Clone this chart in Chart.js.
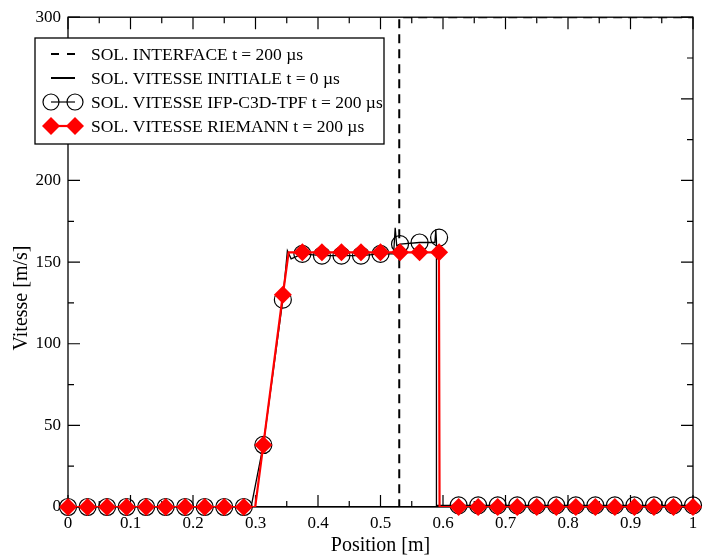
<!DOCTYPE html>
<html><head><meta charset="utf-8">
<script src="https://cdn.jsdelivr.net/npm/chart.js@4/dist/chart.umd.min.js"></script>
<style>html,body{margin:0;padding:0;background:#fff;}#wrap{width:707px;height:557px;}</style>
</head><body><div id="wrap"><canvas id="c" width="707" height="557"></canvas></div>
<script>
// ---- data ----
const markerX = [0, 0.03125, 0.0625, 0.09375, 0.125, 0.15625, 0.1875, 0.21875, 0.25, 0.28125,
  0.3125, 0.34375, 0.375, 0.40625, 0.4375, 0.46875, 0.5, 0.53125, 0.5625, 0.59375,
  0.625, 0.65625, 0.6875, 0.71875, 0.75, 0.78125, 0.8125, 0.84375, 0.875, 0.90625, 0.9375, 0.96875, 1];
const riemannMarkerY = [0,0,0,0,0,0,0,0,0,0, 38,130,156,156,156,156,156,156,156,156, 0,0,0,0,0,0,0,0,0,0,0,0,0];
const ifpMarkerY = [0,0,0,0,0,0,0,0,0,0, 38,127,155,154,154,154,155,161,162,165, 1,1,1,1,1,1,1,1,1,1,1,1,1];
const riemannLineX = [0, 0.2995, 0.3125, 0.34375, 0.353, 0.5935, 0.5945, 1];
const riemannLineY = [0, 0, 38, 130, 156, 156, 0, 0];
const ifpLineX = [0, 0.293, 0.3125, 0.34375, 0.351, 0.357, 0.375, 0.40625, 0.4375, 0.46875, 0.5, 0.521, 0.5235, 0.526, 0.53125, 0.5625, 0.587, 0.5885, 0.5895, 0.5895, 0.6, 1];
const ifpLineY = [0, 0, 38, 127, 157, 152, 155, 154, 154, 154, 155, 155, 171, 160, 161, 162, 162, 170, 163, 1, 1, 1];
const interfaceX = [0, 0.53, 0.53, 1];
const interfaceY = [0, 0, 300, 300];
const initialX = [0, 1];
const initialY = [0, 0];
const xTickValues = [0, 0.1, 0.2, 0.3, 0.4, 0.5, 0.6, 0.7, 0.8, 0.9, 1];
const xTickLabels = ['0', '0.1', '0.2', '0.3', '0.4', '0.5', '0.6', '0.7', '0.8', '0.9', '1'];
const xMinorTicks = [0.05, 0.15, 0.25, 0.35, 0.45, 0.55, 0.65, 0.75, 0.85, 0.95];
const yTickValues = [0, 50, 100, 150, 200, 250, 300];
const yTickLabels = ['0', '50', '100', '150', '200', '250', '300'];
const yMinorTicks = [25, 75, 125, 175, 225, 275];
const seriesLabels = ['SOL. INTERFACE t = 200 µs', 'SOL. VITESSE INITIALE t = 0 µs',
  'SOL. VITESSE IFP-C3D-TPF t = 200 µs', 'SOL. VITESSE RIEMANN t = 200 µs'];
const xTitle = 'Position [m]';
const yTitle = 'Vitesse [m/s]';

const pts = (xs, ys) => xs.map((x, i) => ({x: x, y: ys[i]}));
const SERIF = '"Liberation Serif", "Times New Roman", serif';

const framePlugin = {
  id: 'frame',
  beforeDatasetsDraw(chart) {
    const {ctx, chartArea: a, scales: {x, y}} = chart;
    ctx.save();
    ctx.strokeStyle = '#000';
    ctx.lineWidth = 1.3;
    ctx.strokeRect(a.left, a.top, a.right - a.left, a.bottom - a.top);
    const tick = (vals, len, horiz) => {
      vals.forEach(v => {
        ctx.beginPath();
        if (horiz) {
          const px = x.getPixelForValue(v);
          ctx.moveTo(px, a.bottom); ctx.lineTo(px, a.bottom - len);
          ctx.moveTo(px, a.top); ctx.lineTo(px, a.top + len);
        } else {
          const py = y.getPixelForValue(v);
          ctx.moveTo(a.left, py); ctx.lineTo(a.left + len, py);
          ctx.moveTo(a.right, py); ctx.lineTo(a.right - len, py);
        }
        ctx.stroke();
      });
    };
    ctx.lineWidth = 1.2;
    tick(xTickValues, 12, true);
    tick(xMinorTicks, 6, true);
    tick(yTickValues, 12, false);
    tick(yMinorTicks, 6, false);
    // y axis title
    ctx.save();
    ctx.translate(22, 298);
    ctx.rotate(-Math.PI / 2);
    ctx.fillStyle = '#000';
    ctx.font = '20px ' + SERIF;
    ctx.textAlign = 'center';
    ctx.textBaseline = 'middle';
    ctx.fillText(yTitle, 0, 0);
    ctx.restore();
    ctx.restore();
  },
  afterDraw(chart) {
    const ctx = chart.ctx;
    ctx.save();
    const L = 35, T = 38, W = 349, H = 106;
    ctx.fillStyle = '#fff';
    ctx.fillRect(L, T, W, H);
    ctx.strokeStyle = '#000';
    ctx.lineWidth = 1.3;
    ctx.strokeRect(L, T, W, H);
    const x1 = 51, x2 = 75;
    seriesLabels.forEach((lab, i) => {
      const cy = 54 + 24 * i;
      ctx.save();
      ctx.beginPath();
      if (i === 0) { ctx.setLineDash([8, 8]); ctx.lineWidth = 2; ctx.strokeStyle = '#000'; }
      else if (i === 1) { ctx.lineWidth = 2; ctx.strokeStyle = '#000'; }
      else if (i === 2) { ctx.lineWidth = 1.2; ctx.strokeStyle = '#000'; }
      else { ctx.lineWidth = 2.2; ctx.strokeStyle = '#ff0000'; }
      ctx.moveTo(x1, cy); ctx.lineTo(x2, cy); ctx.stroke();
      ctx.restore();
      if (i === 2) {
        ctx.strokeStyle = '#000'; ctx.lineWidth = 1.2;
        [x1, x2].forEach(px => { ctx.beginPath(); ctx.arc(px, cy, 8, 0, Math.PI * 2); ctx.stroke(); });
      } else if (i === 3) {
        ctx.fillStyle = '#ff0000';
        [x1, x2].forEach(px => { ctx.beginPath(); ctx.moveTo(px, cy - 9); ctx.lineTo(px + 9, cy); ctx.lineTo(px, cy + 9); ctx.lineTo(px - 9, cy); ctx.closePath(); ctx.fill(); });
      }
      ctx.fillStyle = '#000';
      ctx.font = '17.5px ' + SERIF;
      ctx.textBaseline = 'middle';
      ctx.textAlign = 'left';
      ctx.fillText(lab, 91, cy + 1);
    });
    ctx.restore();
  }
};

new Chart(document.getElementById('c'), {
  type: 'line',
  data: {
    datasets: [
      {label: seriesLabels[3] + ' markers', data: pts(markerX, riemannMarkerY), showLine: false,
        pointStyle: 'rectRot', pointRadius: 9, pointBackgroundColor: '#ff0000', pointBorderColor: '#ff0000',
        pointBorderWidth: 0, order: 0, clip: false},
      {label: seriesLabels[3], data: pts(riemannLineX, riemannLineY), borderColor: '#ff0000', borderWidth: 2.2,
        pointRadius: 0, order: 1},
      {label: seriesLabels[2] + ' markers', data: pts(markerX, ifpMarkerY), showLine: false,
        pointStyle: 'circle', pointRadius: 8.5, pointBackgroundColor: 'rgba(0,0,0,0)', pointBorderColor: '#000',
        pointBorderWidth: 1.2, order: 2, clip: false},
      {label: seriesLabels[2], data: pts(ifpLineX, ifpLineY), borderColor: '#000', borderWidth: 1.3,
        pointRadius: 0, order: 3},
      {label: seriesLabels[1], data: pts(initialX, initialY), borderColor: '#000', borderWidth: 2,
        pointRadius: 0, order: 4},
      {label: seriesLabels[0], data: pts(interfaceX, interfaceY), borderColor: '#000', borderWidth: 2,
        borderDash: [9, 6], pointRadius: 0, order: 5}
    ]
  },
  options: {
    responsive: false,
    animation: false,
    devicePixelRatio: 1,
    layout: {padding: {top: 17, right: 14, left: 0, bottom: 0}},
    plugins: {legend: {display: false}, tooltip: {enabled: false}},
    elements: {line: {tension: 0}},
    scales: {
      x: {
        type: 'linear', min: 0, max: 1, position: 'bottom',
        grid: {display: false, drawTicks: false}, border: {display: false},
        afterBuildTicks: s => { s.ticks = xTickValues.map(v => ({value: v})); },
        afterFit: s => { s.height = 50; },
        ticks: {autoSkip: false, maxRotation: 0, padding: 6, color: '#000',
          font: {family: SERIF, size: 17},
          callback: v => xTickLabels[xTickValues.indexOf(v)] ?? ''},
        title: {display: true, text: xTitle, color: '#000', font: {family: SERIF, size: 20},
          padding: {top: 0, bottom: -1}}
      },
      y: {
        type: 'linear', min: 0, max: 300, position: 'left',
        grid: {display: false, drawTicks: false}, border: {display: false},
        afterBuildTicks: s => { s.ticks = yTickValues.map(v => ({value: v})); },
        afterFit: s => { s.width = 68; },
        ticks: {autoSkip: false, padding: 7, color: '#000',
          font: {family: SERIF, size: 17},
          callback: v => yTickLabels[yTickValues.indexOf(v)] ?? ''},
        title: {display: false}
      }
    }
  },
  plugins: [framePlugin]
});
</script></body></html>
